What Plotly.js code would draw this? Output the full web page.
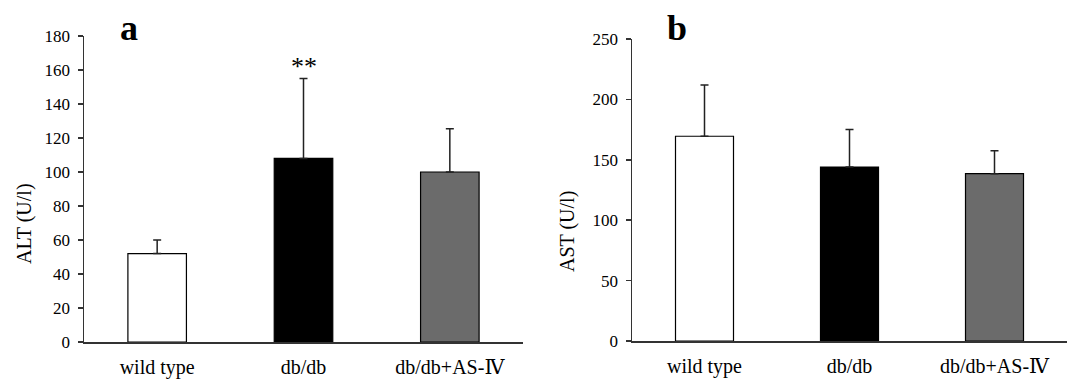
<!DOCTYPE html>
<html><head><meta charset="utf-8">
<script src="https://cdn.plot.ly/plotly-3.0.1.min.js"></script>
<style>html,body{margin:0;padding:0;background:#fff}#chart{width:1072px;height:385px}</style>
</head><body><div id="chart"></div>
<script>
const categories = ['wild type', 'db/db', 'db/db+AS-Ⅳ'];
const altValues = [52, 108, 100];
const altErrors = [8, 47, 25.5];
const astValues = [169.5, 144, 138.5];
const astErrors = [42.5, 31, 19];
const barColors = ['#ffffff', '#000000', '#6b6b6b'];
const zeros = [0, 0, 0];

const W = 1072, H = 385;
const FONT = '"Liberation Serif", "DejaVu Serif", "Times New Roman", serif';
function errY(arr){ return {type:'data', symmetric:false, array:arr, arrayminus:zeros, visible:true, width:4, thickness:1.5, color:'#222'}; }

const traces = [
  {type:'bar', x:categories, y:altValues, xaxis:'x', yaxis:'y', marker:{color:barColors, line:{color:'#000', width:1.2}}, error_y:errY(altErrors), hoverinfo:'none'},
  {type:'bar', x:categories, y:astValues, xaxis:'x2', yaxis:'y2', marker:{color:barColors, line:{color:'#000', width:1.2}}, error_y:errY(astErrors), hoverinfo:'none'}
];

const yA0 = 342, yA1 = 36, yB0 = 341, yB1 = 39;
const xcommon = {type:'category', range:[-0.5, 2.5], showline:true, linecolor:'#333', linewidth:1.5, ticks:'', showgrid:false, zeroline:false,
  ticklabelstandoff:6, tickfont:{family:FONT, size:20, color:'#000'}, fixedrange:true};
const ycommon = {showline:true, linecolor:'#333', linewidth:1.5, ticks:'outside', ticklen:5, tickwidth:1.5, tickcolor:'#333', showgrid:false, zeroline:false,
  ticklabelstandoff:4, tickfont:{family:FONT, size:17, color:'#000'}, fixedrange:true};

const layout = {
  width:W, height:H, margin:{l:0, r:0, t:0, b:0}, showlegend:false, bargap:0.6,
  paper_bgcolor:'#fff', plot_bgcolor:'#fff',
  xaxis:Object.assign({}, xcommon, {domain:[84/W, 523/W], anchor:'y'}),
  xaxis2:Object.assign({}, xcommon, {domain:[632/W, 1067/W], anchor:'y2'}),
  yaxis:Object.assign({}, ycommon, {domain:[(H-yA0)/H, (H-yA1)/H], range:[0,180], dtick:20, anchor:'x'}),
  yaxis2:Object.assign({}, ycommon, {domain:[(H-yB0)/H, (H-yB1)/H], range:[0,250], dtick:50, anchor:'x2'}),
  annotations:[
    {text:'<b>a</b>', xref:'paper', yref:'paper', x:129/W, y:(H-28)/H, xanchor:'center', yanchor:'middle', showarrow:false, font:{family:FONT, size:36, color:'#000'}},
    {text:'<b>b</b>', xref:'paper', yref:'paper', x:677/W, y:(H-28)/H, xanchor:'center', yanchor:'middle', showarrow:false, font:{family:FONT, size:36, color:'#000'}},
    {text:'ALT (U/l)', xref:'paper', yref:'paper', x:24/W, y:(H-224)/H, xanchor:'center', yanchor:'middle', textangle:-90, showarrow:false, font:{family:FONT, size:20, color:'#000'}},
    {text:'AST (U/l)', xref:'paper', yref:'paper', x:567/W, y:(H-232)/H, xanchor:'center', yanchor:'middle', textangle:-90, showarrow:false, font:{family:FONT, size:20, color:'#000'}},
    {text:'**', xref:'x', yref:'y', x:categories[1], y:altValues[1] + altErrors[1], xanchor:'center', yanchor:'bottom', yshift:-4, showarrow:false, font:{family:FONT, size:26, color:'#000'}}
  ]
};
Plotly.newPlot('chart', traces, layout, {displayModeBar:false, staticPlot:true});
</script></body></html>
